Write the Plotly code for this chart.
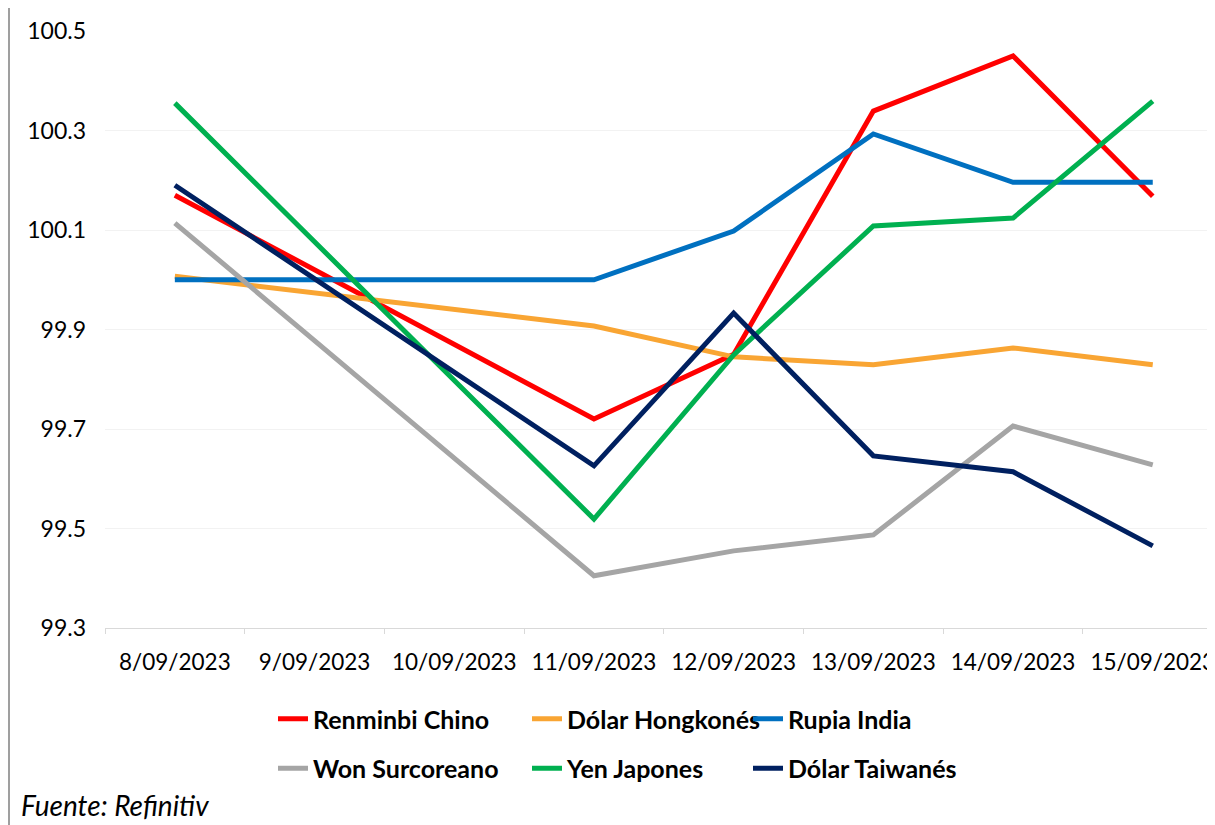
import plotly.graph_objects as go

dates = ["8/09/2023", "9/09/2023", "10/09/2023", "11/09/2023",
         "12/09/2023", "13/09/2023", "14/09/2023", "15/09/2023"]

renminbi = [100.170, None, None, 99.720, 99.850, 100.339, 100.450, 100.168]
dolar_hk = [100.007, None, None, 99.907, 99.845, 99.829, 99.863, 99.829]
rupia = [100.000, None, None, 100.000, 100.098, 100.293, 100.196, 100.196]
won = [100.114, None, None, 99.405, 99.455, 99.487, 99.706, 99.628]
yen = [100.355, None, None, 99.519, 99.849, 100.108, 100.124, 100.359]
dolar_tw = [100.190, None, None, 99.626, 99.933, 99.646, 99.614, 99.465]

y_ticks = [99.3, 99.5, 99.7, 99.9, 100.1, 100.3, 100.5]

series = [
    ("Renminbi Chino", renminbi, "#FF0000", "legend"),
    ("Dólar Hongkonés", dolar_hk, "#F9A533", "legend2"),
    ("Rupia India", rupia, "#0070C0", "legend3"),
    ("Won Surcoreano", won, "#A5A5A5", "legend"),
    ("Yen Japones", yen, "#00B050", "legend2"),
    ("Dólar Taiwanés", dolar_tw, "#002060", "legend3"),
]

fig = go.Figure()
for name, vals, color, lg in series:
    fig.add_trace(go.Scatter(
        x=dates, y=vals, name=name, mode="lines", connectgaps=True,
        line=dict(color=color, width=5), legend=lg, legendgroup=name,
    ))

FONT = "Lato"
OFF = 8  # page body offset
W, H = 1207, 817
L, R, T, B = 97, 0, 23, 197
PW, PH = W - L - R, H - T - B


def px_x(sx):
    return (sx - OFF - L) / PW


def px_y(sy):
    return (H - B - (sy - OFF)) / PH


leg_common = dict(
    orientation="v", xref="paper", yref="paper", yanchor="top", xanchor="left",
    font=dict(family=FONT, size=25, color="#000000", weight="bold"),
    bgcolor="rgba(0,0,0,0)", traceorder="grouped", tracegroupgap=14,
    itemwidth=30,
)
ytop = px_y(696)
fig.update_layout(
    width=W, height=H,
    margin=dict(l=L, r=R, t=T, b=B, autoexpand=False),
    paper_bgcolor="white", plot_bgcolor="white",
    font=dict(family=FONT, size=22, color="#000000"),
    showlegend=True,
    legend=dict(x=px_x(313 - 40), y=ytop, **leg_common),
    legend2=dict(x=px_x(567 - 40), y=ytop, **leg_common),
    legend3=dict(x=px_x(788 - 40), y=ytop, **leg_common),
    xaxis=dict(
        type="category", categoryorder="array", categoryarray=dates,
        range=[-0.5, -0.5 + PW / 139.7], showgrid=False, showline=True,
        linecolor="#D9D9D9", linewidth=1, ticks="outside", tickson="boundaries",
        tickcolor="#D9D9D9", ticklen=5, ticklabelstandoff=14, tickangle=0,
        tickfont=dict(family=FONT, size=22.5, color="#000000"),
        zeroline=False,
    ),
    yaxis=dict(
        range=[99.3, 100.5], tickvals=y_ticks, tickformat=".1f",
        showgrid=True, gridcolor="#F2F2F2", gridwidth=1, zeroline=False,
        showline=False, ticks="", ticklabelstandoff=18,
        tickfont=dict(family=FONT, size=23, color="#000000"),
    ),
    annotations=[dict(
        text="<i>Fuente: Refinitiv</i>", xref="paper", yref="paper",
        x=px_x(22 - 3), y=px_y(805), xanchor="left", yanchor="middle",
        showarrow=False, font=dict(family=FONT, size=28, color="#000000"),
    )],
    shapes=[dict(
        type="line", xref="paper", yref="paper",
        x0=px_x(9), x1=px_x(9), y0=px_y(825), y1=px_y(8),
        line=dict(color="#7F7F7F", width=1.5),
    )],
)

fig.write_html("out.html")
